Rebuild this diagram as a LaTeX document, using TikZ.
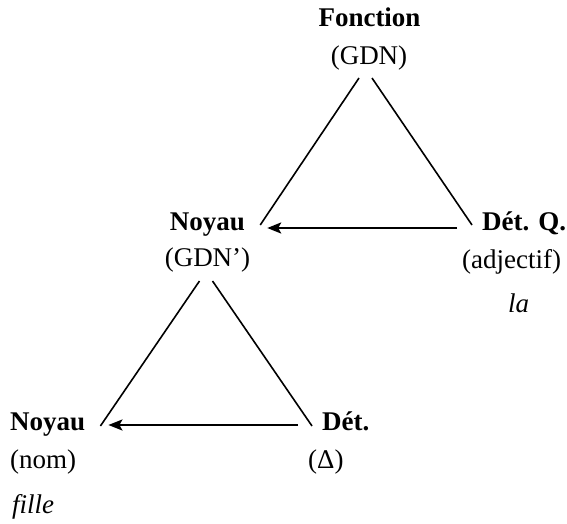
\documentclass[tikz,border=0pt]{standalone}
\usepackage{fontspec}
\setmainfont{Liberation Serif}
\usetikzlibrary{calc,arrows.meta}

\begin{document}
\begin{tikzpicture}[
    x=1pt, y=-1pt,
    font=\fontsize{27}{32}\selectfont,
    head/.style = {inner sep=0pt, anchor=base, font=\fontsize{27}{32}\selectfont\bfseries},
    cat/.style = {inner sep=0pt, anchor=base},
    example/.style = {inner sep=0pt, anchor=base west, font=\fontsize{27}{32}\selectfont\itshape},
    branch/.style = {line width=1.6pt},
    arrow/.style = {-{Stealth[length=14pt, width=11pt, inset=3pt]}, line width=2.2pt}
]
    \useasboundingbox (0,0) rectangle (567,524);

    % Upper triangle
    \node [head] (fonct) at (369.5,27) {Fonction};
    \node [cat] (fonctcat) at (369,65) {(GDN)};
    \node [head] (noyauQ) at (207.5,230) {Noyau};
    \node [cat] (noyauQcat) at (207.5,266) {(GDN’)};
    \node [head, anchor=base west] (detQ) at (482,230) {Dét. Q.};
    \node [cat, anchor=base west] (detQcat) at (462,268) {(adjectif)};
    \node [example] (detQex) at (508,312) {la};

    % Lower triangle
    \node [head, anchor=base west] (noyauN) at (10,430) {Noyau};
    \node [cat, anchor=base west] (noyauNcat) at (10,468) {(nom)};
    \node [example] (noyauNex) at (12,513) {fille};
    \node [head, anchor=base west] (det) at (322,430) {Dét.};
    \node [cat, anchor=base west] (detcat) at (308,468) {(Δ)};

    % Connections
    \draw [branch] ($(fonctcat.base)+(-10,13)$) -- ($(noyauQ.base east)+(15,-5)$);
    \draw [branch] ($(fonctcat.base)+(3,13)$) -- ($(detQ.base west)+(-10,-5)$);
    \draw [arrow] ($(detQ.base west)+(-25,-2)$) -- ($(noyauQ.base east)+(22,-2)$);
    \draw [branch] ($(noyauQcat.base)+(-8,15)$) -- ($(noyauN.base east)+(15,-4)$);
    \draw [branch] ($(noyauQcat.base)+(5,15)$) -- ($(det.base west)+(-10,-4)$);
    \draw [arrow] ($(det.base west)+(-24,-5)$) -- ($(noyauN.base east)+(23,-5)$);
\end{tikzpicture}
\end{document}
